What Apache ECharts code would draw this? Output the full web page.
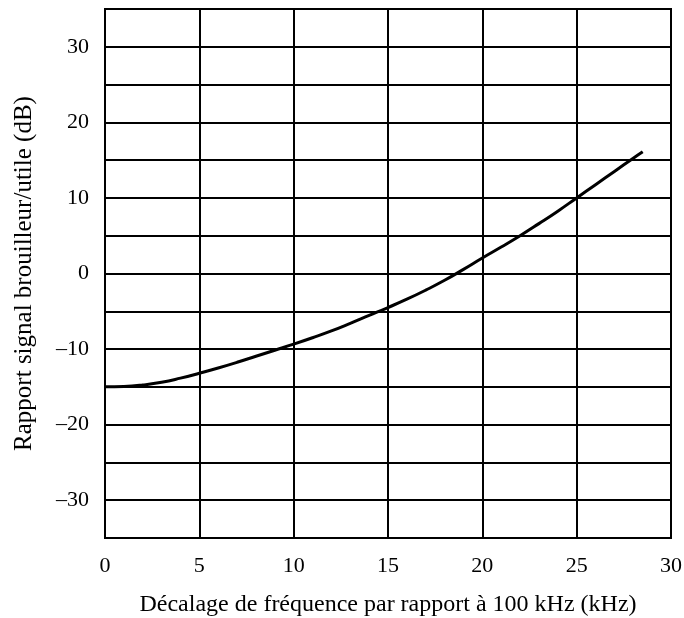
<!DOCTYPE html>
<html>
<head>
<meta charset="utf-8">
<script src="https://cdn.jsdelivr.net/npm/echarts@6/dist/echarts.min.js"></script>
<style>
  html, body { margin: 0; padding: 0; background: #fff; }
  #chart { width: 684px; height: 618px; }
</style>
</head>
<body>
<div id="chart"></div>
<script>
// décalage de fréquence (kHz)
var offsets = [0, 1, 2, 3, 4, 5, 6, 7, 8, 9, 10, 11, 12, 13, 14, 15, 16, 17, 18, 19, 20, 21, 22, 23, 24, 25, 26, 27, 28, 28.5];
// rapport signal brouilleur/utile (dB)
var ratios = [-15, -14.95, -14.75, -14.4, -13.85, -13.2, -12.5, -11.75, -10.95, -10.15, -9.35, -8.5, -7.6, -6.6, -5.55, -4.5, -3.4, -2.2, -0.9, 0.55, 2.05, 3.5, 5.0, 6.6, 8.25, 10.0, 11.75, 13.5, 15.25, 16.1];

var xTicks = [0, 5, 10, 15, 20, 25, 30];
var yLabelled = [-30, -20, -10, 0, 10, 20, 30];

var points = offsets.map(function (x, i) { return [x, ratios[i]]; });

var font = 'Liberation Serif';
var chart = echarts.init(document.getElementById('chart'));
chart.setOption({
  animation: false,
  grid: {
    left: 105, right: 13, top: 9, bottom: 80,
    outerBoundsMode: 'none',
    show: true, borderColor: '#000', borderWidth: 2
  },
  xAxis: {
    type: 'value',
    min: 0, max: 30, interval: 5,
    name: 'Décalage de fréquence par rapport à 100 kHz (kHz)',
    nameLocation: 'middle',
    nameGap: 55,
    nameTextStyle: { fontFamily: font, fontSize: 24, color: '#000' },
    axisLine: { show: true, lineStyle: { color: '#000', width: 2 } },
    axisTick: { show: false },
    axisLabel: {
      margin: 17, fontFamily: font, fontSize: 22, color: '#000',
      formatter: function (v) { return xTicks.indexOf(v) >= 0 ? String(v) : ''; }
    },
    splitLine: { show: true, lineStyle: { color: '#000', width: 2 } }
  },
  yAxis: {
    type: 'value',
    min: -35, max: 35, interval: 5,
    name: 'Rapport signal brouilleur/utile (dB)',
    nameLocation: 'middle',
    nameGap: 68,
    nameTextStyle: { fontFamily: font, fontSize: 25, color: '#000' },
    axisLine: { show: true, lineStyle: { color: '#000', width: 2 } },
    axisTick: { show: false },
    axisLabel: {
      margin: 16, fontFamily: font, fontSize: 22, color: '#000',
      formatter: function (v) {
        if (yLabelled.indexOf(v) < 0) return '';
        return v < 0 ? '\u2013' + Math.abs(v) : String(v);
      }
    },
    splitLine: { show: true, lineStyle: { color: '#000', width: 2 } }
  },
  series: [{
    type: 'line',
    data: points,
    smooth: true,
    symbol: 'none',
    lineStyle: { color: '#000', width: 3 }
  }]
});
</script>
</body>
</html>
